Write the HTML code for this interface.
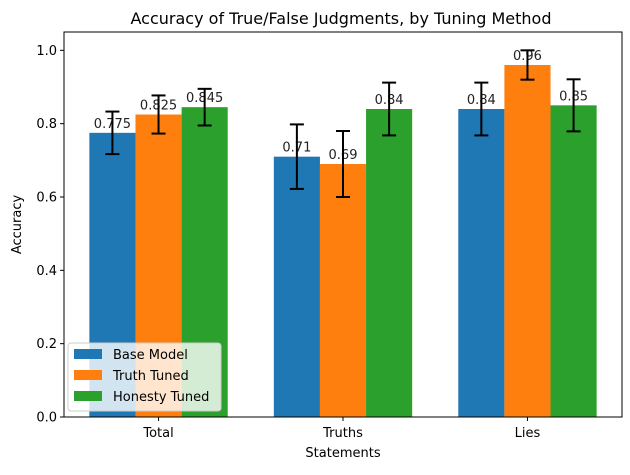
<!DOCTYPE html>
<html><head><meta charset="utf-8"><style>
body{margin:0;background:#fff;font-family:"Liberation Sans","DejaVu Sans",sans-serif}
svg text{font-family:"DejaVu Sans","Liberation Sans",sans-serif}
</style></head><body>
<svg id="c" width="630" height="470" xmlns="http://www.w3.org/2000/svg">
<rect width="630" height="470" fill="#fff"/>
<text x="341" y="24" font-size="16" text-anchor="middle">Accuracy of True/False Judgments, by Tuning Method</text>
<g id="bars"></g>
<g id="axes"></g>
</svg>
<script>
const categories=["Total","Truths","Lies"];
const seriesNames=["Base Model","Truth Tuned","Honesty Tuned"];
const baseVals=[0.775,0.71,0.84];
const truthVals=[0.825,0.69,0.96];
const honestyVals=[0.845,0.84,0.85];
const baseErr=[0.058,0.088,0.072];
const truthErr=[0.052,0.09,0.04];
const honestyErr=[0.05,0.072,0.071];
const yTicks=[0,0.2,0.4,0.6,0.8,1.0];
const yTickLabels=["0.0","0.2","0.4","0.6","0.8","1.0"];
const labels=[["0.775","0.71","0.84"],["0.825","0.69","0.96"],["0.845","0.84","0.85"]];

const L=64,R=622,T=32,B=417,ymax=1.05;
const colors=["#1f77b4","#ff7f0e","#2ca02c"];
const ns="http://www.w3.org/2000/svg";
const xs=v=>L+(v+0.5125)/3.025*(R-L);
const ys=v=>B-v/ymax*(B-T);
const bw=0.25/3.025*(R-L);
function mk(t,a,p){const e=document.createElementNS(ns,t);for(const k in a)e.setAttribute(k,a[k]);p.appendChild(e);return e;}
const gb=document.getElementById('bars'),ga=document.getElementById('axes');
const vals=[baseVals,truthVals,honestyVals],errs=[baseErr,truthErr,honestyErr];
for(let s=0;s<3;s++)for(let i=0;i<categories.length;i++){
 const cx=xs(i+(s-1)*0.25),v=vals[s][i],e=errs[s][i];
 const r=mk('rect',{x:cx-bw/2,y:ys(v),width:bw,height:ys(0)-ys(v),fill:colors[s]},gb);
 
 
 const t=mk('text',{x:cx,y:ys(v)-5,'font-size':13,'text-anchor':'middle',fill:'#222'},gb);
 t.textContent=labels[s][i];
 
 
 const g=mk('g',{stroke:'#000','stroke-width':2},gb);
 
 
 mk('line',{x1:cx,x2:cx,y1:ys(v-e),y2:ys(v+e)},g);
 mk('line',{x1:cx-7,x2:cx+7,y1:ys(v-e),y2:ys(v-e)},g);
 mk('line',{x1:cx-7,x2:cx+7,y1:ys(v+e),y2:ys(v+e)},g);
}
mk('rect',{x:L,y:T,width:R-L,height:B-T,fill:'none',stroke:'#000','stroke-width':1},ga);
yTicks.forEach((v,k)=>{
 mk('line',{x1:L-4,x2:L,y1:ys(v),y2:ys(v),stroke:'#000'},ga);
 const t=mk('text',{x:L-7,y:ys(v)+4.5,'font-size':13,'text-anchor':'end'},ga);
 t.textContent=yTickLabels[k];
 
 
});
categories.forEach((c,i)=>{
 mk('line',{x1:xs(i),x2:xs(i),y1:B,y2:B+4,stroke:'#000'},ga);
 const t=mk('text',{x:xs(i),y:B+20,'font-size':13,'text-anchor':'middle'},ga);
 t.textContent=c;
 
 
});
let t=mk('text',{x:(L+R)/2,y:457,'font-size':13,'text-anchor':'middle'},ga);t.textContent="Statements";


t=mk('text',{x:21,y:(T+B)/2,'font-size':13,'text-anchor':'middle',transform:'rotate(-90 21 '+((T+B)/2)+')'},ga);t.textContent="Accuracy";


const lg=mk('g',{},ga);


mk('rect',{x:68,y:343,width:153,height:68,rx:3,fill:'rgba(255,255,255,0.8)',stroke:'#ccc'},lg);
seriesNames.forEach((n,s)=>{
 const y=354+s*21;
 mk('rect',{x:74,y:y-5,width:28,height:10,fill:colors[s]},lg);
 const tt=mk('text',{x:113,y:y+5,'font-size':13},lg);tt.textContent=n;
 
 
});
</script>
</body></html>
